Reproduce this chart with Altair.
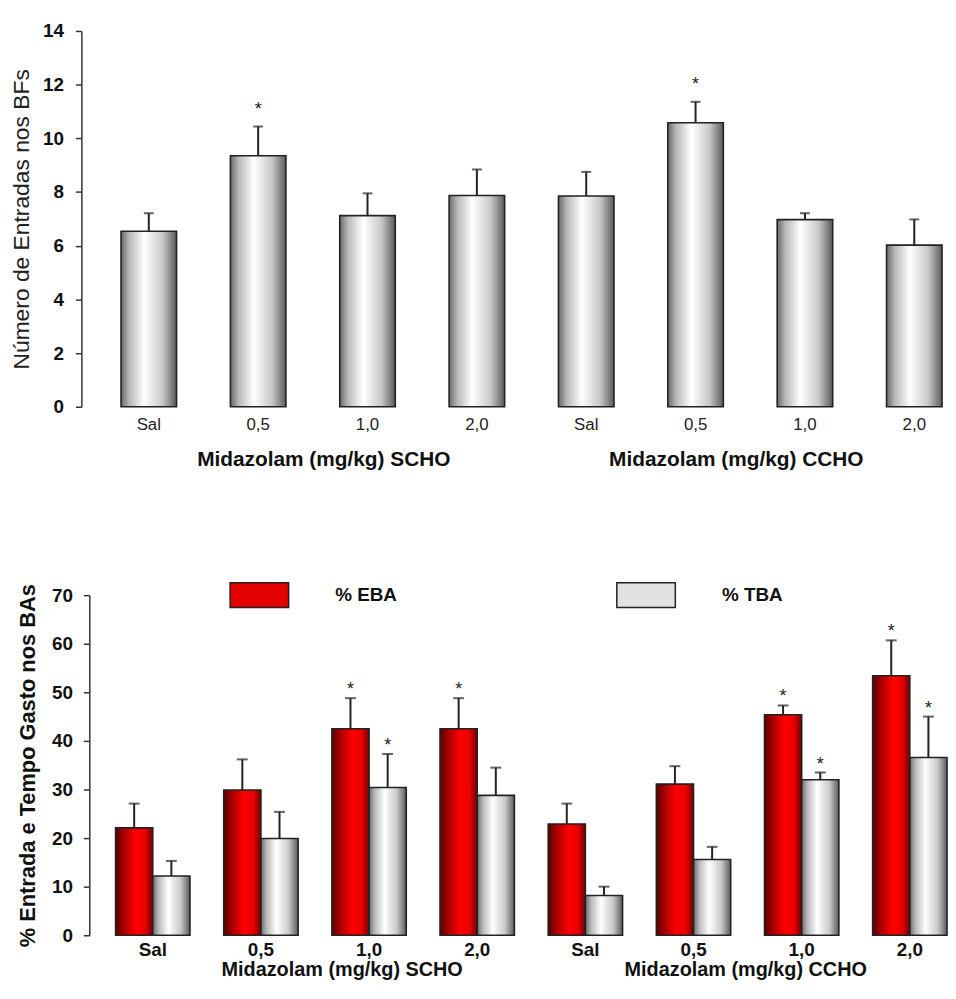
import altair as alt
import pandas as pd

FONT = "Liberation Sans"

# ---------------- data ----------------
groups = ["SCHO", "CCHO"]
group_titles = ["Midazolam (mg/kg) SCHO", "Midazolam (mg/kg) CCHO"]
doses = ["Sal", "0,5", "1,0", "2,0"]

# top panel: Número de Entradas nos BFs
top_mean = [6.54, 9.35, 7.12, 7.87, 7.85, 10.58, 6.97, 6.02]
top_sem = [0.67, 1.09, 0.83, 0.97, 0.90, 0.78, 0.24, 0.96]
top_star = [False, True, False, False, False, True, False, False]

# bottom panel: % EBA / % TBA
series = ["% EBA", "% TBA"]
eba_mean = [22.1, 29.9, 42.5, 42.5, 22.9, 31.1, 45.4, 53.4]
eba_sem = [5.0, 6.3, 6.3, 6.3, 4.2, 3.7, 1.9, 7.3]
eba_star = [False, False, True, True, False, False, True, True]
tba_mean = [12.2, 19.9, 30.4, 28.8, 8.2, 15.6, 32.0, 36.6]
tba_sem = [3.1, 5.5, 6.9, 5.7, 1.8, 2.6, 1.5, 8.4]
tba_star = [False, False, True, False, False, False, True, True]

cats = [f"{d}|{g}" for g in groups for d in doses]

top_df = pd.DataFrame({
    "cat": cats,
    "mean": top_mean,
    "err": [m + s for m, s in zip(top_mean, top_sem)],
    "star": top_star,
})

rows = []
for i, c in enumerate(cats):
    rows.append({"cat": c, "series": series[0], "mean": eba_mean[i],
                 "err": eba_mean[i] + eba_sem[i], "star": eba_star[i]})
    rows.append({"cat": c, "series": series[1], "mean": tba_mean[i],
                 "err": tba_mean[i] + tba_sem[i], "star": tba_star[i]})
bot_df = pd.DataFrame(rows)

grp_df = pd.DataFrame({"grp": group_titles})

# ---------------- styles ----------------
def grad(stops):
    return alt.Gradient(gradient="linear", x1=0, y1=0, x2=1, y2=0,
                        stops=[alt.GradientStop(offset=o, color=c) for o, c in stops])

gray_stops = [(0, "#6a6a6a"), (0.15, "#b8b8b8"), (0.42, "#ffffff"), (0.75, "#c8c8c8"), (1, "#5a5a5a")]
red_stops = [(0, "#5a0000"), (0.25, "#b00000"), (0.55, "#ff0000"), (0.8, "#e80000"), (1, "#700000")]
gray_grad = grad(gray_stops)
red_grad = grad(red_stops)

EDGE = "#222222"

# ---------------- top chart ----------------
TOP_W, TOP_H = 860, 379
top_xscale = alt.Scale(range=[32, 860], paddingInner=0.4923, paddingOuter=0)
top_x = alt.X("cat:N", sort=cats, title=None, scale=top_xscale,
              axis=alt.Axis(orient="bottom", labelExpr="split(datum.label, '|')[0]",
                            labelAngle=0, domain=False, ticks=False, tickSize=0,
                            labelPadding=10, labelFontSize=17, labelFont=FONT,
                            labelColor="#222"))
top_y = alt.Y("mean:Q", title="Número de Entradas nos BFs",
              scale=alt.Scale(domain=[0, 14], nice=False),
              axis=alt.Axis(values=list(range(0, 15, 2)), offset=8, tickSize=6,
                            labelPadding=12, labelFontSize=19, labelFontWeight="bold",
                            labelFont=FONT, labelColor="#111", grid=False,
                            domainColor="#333", tickColor="#333", domainWidth=1.5,
                            tickWidth=1.5, titleFont=FONT, titleFontSize=23,
                            titleFontWeight="normal", titleColor="#222", titlePadding=9))

tb = alt.Chart(top_df)
top_bars = tb.mark_bar(fill=gray_grad, stroke=EDGE, strokeWidth=1.6).encode(x=top_x, y=top_y)
top_rule = tb.mark_rule(color=EDGE, strokeWidth=2).encode(x=top_x, y="mean:Q", y2="err:Q")
top_cap = tb.mark_tick(orient="horizontal", size=10, thickness=2, color=EDGE).encode(
    x=top_x, y="err:Q")
top_star_l = tb.transform_filter("datum.star").mark_text(
    text="*", fontSize=18, font=FONT, baseline="alphabetic", dy=-12, color="#222").encode(
    x=top_x, y="err:Q")
top_grp = alt.Chart(grp_df).mark_text(text="", opacity=0).encode(
    x=alt.X("grp:N", sort=group_titles, title=None,
            scale=alt.Scale(range=[28, 860], paddingInner=0.151, paddingOuter=0),
            axis=alt.Axis(orient="bottom", domain=False, ticks=False, tickSize=0,
                          labelAngle=0, labelPadding=42, labelFontSize=21, labelLimit=0,
                          labelFontWeight="bold", labelFont=FONT, labelColor="#111")))

top_main = alt.layer(top_bars, top_rule, top_cap, top_star_l)
top_chart = alt.layer(top_main, top_grp).resolve_scale(
    x="independent").properties(width=TOP_W, height=TOP_H)

# ---------------- bottom chart ----------------
BOT_W, BOT_H = 865, 343
bot_xscale = alt.Scale(range=[26.5, 865], paddingInner=0.3124, paddingOuter=0)
bot_x = alt.X("cat:N", sort=cats, title=None, scale=bot_xscale,
              axis=alt.Axis(orient="bottom", labelExpr="split(datum.label, '|')[0]",
                            labelAngle=0, domain=False, ticks=False, tickSize=0,
                            labelPadding=5, labelFontSize=19, labelFontWeight="bold",
                            labelFont=FONT, labelColor="#111"))
bot_xo = alt.XOffset("series:N", sort=series, scale=alt.Scale(paddingInner=0, paddingOuter=0))
bot_y = alt.Y("mean:Q", title="% Entrada e Tempo Gasto nos BAs",
              scale=alt.Scale(domain=[0, 70], nice=False),
              axis=alt.Axis(values=list(range(0, 71, 10)), tickSize=6, labelPadding=11,
                            labelFontSize=19, labelFontWeight="bold", labelFont=FONT,
                            labelColor="#111", grid=False, domainColor="#333",
                            tickColor="#333", domainWidth=1.5, tickWidth=1.5,
                            titleFont=FONT, titleFontSize=22, titleFontWeight="bold",
                            titleColor="#111", titlePadding=12))

legend = alt.Legend(
    title=None, orient="none", legendX=141, legendY=-31, direction="horizontal",
    symbolType="M-1,-0.424H1V0.424H-1Z", symbolSize=3481, symbolStrokeWidth=1.5,
    symbolStrokeColor=EDGE, symbolOpacity=1, labelFontSize=19, labelFontWeight="bold",
    labelFont=FONT, labelColor="#111", labelOffset=46, columnPadding=218, padding=0)
fill_enc = alt.Fill("series:N", sort=series,
                    scale=alt.Scale(domain=series, range=["#e40000", "#e2e2e2"]), legend=legend)

bb = alt.Chart(bot_df)
legend_layer = bb.mark_bar(opacity=0).encode(
    x=bot_x, xOffset=bot_xo, y=bot_y, fill=fill_enc)
red_bars = bb.transform_filter(alt.datum.series == series[0]).mark_bar(
    fill=red_grad, stroke=EDGE, strokeWidth=1.6).encode(
    x=bot_x, xOffset=bot_xo, y=bot_y)
white_bars = bb.transform_filter(alt.datum.series == series[1]).mark_bar(
    fill=gray_grad, stroke=EDGE, strokeWidth=1.6).encode(
    x=bot_x, xOffset=bot_xo, y=bot_y)
bot_rule = bb.mark_rule(color=EDGE, strokeWidth=2).encode(
    x=bot_x, xOffset=bot_xo, y="mean:Q", y2="err:Q")
bot_cap = bb.mark_tick(orient="horizontal", size=11, thickness=2, color=EDGE).encode(
    x=bot_x, xOffset=bot_xo, y="err:Q")
bot_star_l = bb.transform_filter("datum.star").mark_text(
    text="*", fontSize=18, font=FONT, baseline="alphabetic", dy=-3, color="#222").encode(
    x=bot_x, xOffset=bot_xo, y="err:Q")
bot_grp = alt.Chart(grp_df).mark_text(text="", opacity=0).encode(
    x=alt.X("grp:N", sort=group_titles, title=None,
            scale=alt.Scale(range=[51, 865], paddingInner=0.187, paddingOuter=0),
            axis=alt.Axis(orient="bottom", domain=False, ticks=False, tickSize=0,
                          labelAngle=0, labelPadding=25, labelFontSize=20, labelLimit=0,
                          labelFontWeight="bold", labelFont=FONT, labelColor="#111")))

bot_main = alt.layer(legend_layer, red_bars, white_bars, bot_rule, bot_cap, bot_star_l)
bot_chart = alt.layer(bot_main, bot_grp).resolve_scale(
    x="independent").properties(width=BOT_W, height=BOT_H)

chart = alt.vconcat(top_chart, bot_chart, spacing=96).resolve_legend(
    fill="independent").properties(
    padding={"left": 2, "top": 10, "right": 0, "bottom": 0},
    background="white",
).configure_view(stroke=None)

chart.save("out.html", embed_options={"renderer": "svg", "actions": False})
